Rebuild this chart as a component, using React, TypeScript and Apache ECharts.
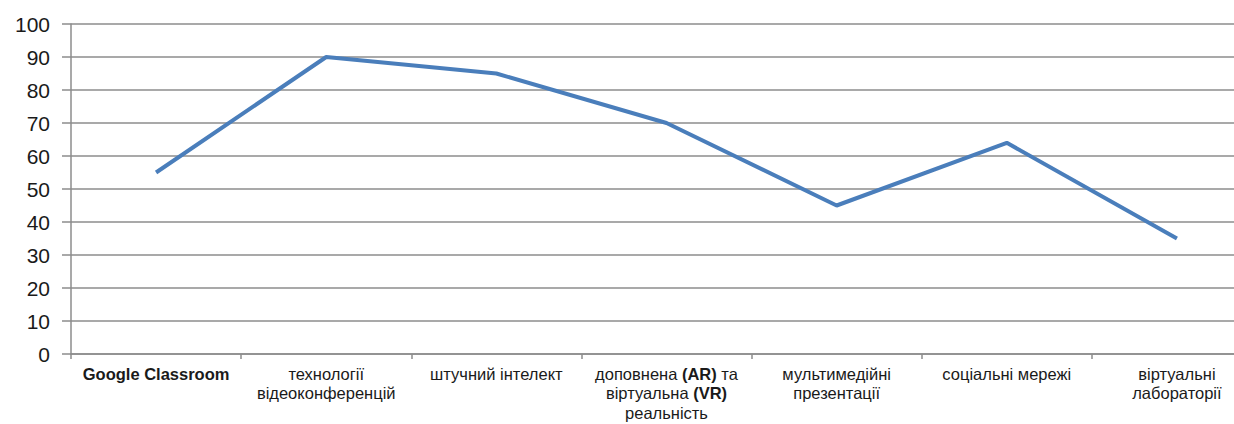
import React, { useEffect, useRef } from "react";
import * as echarts from "echarts";

const categories = [
  "Google Classroom",
  "технології\nвідеоконференцій",
  "штучний інтелект",
  "доповнена (AR) та\nвіртуальна (VR)\nреальність",
  "мультимедійні\nпрезентації",
  "соціальні мережі",
  "віртуальні\nлабораторії",
];
const values = [55, 90, 85, 70, 45, 64, 35];
const yTicks = { min: 0, max: 100, interval: 10 };

const FONT = "Liberation Sans, Arial, sans-serif";

export default function App() {
  const ref = useRef<HTMLDivElement>(null);
  useEffect(() => {
    if (!ref.current) return;
    const chart = echarts.init(ref.current, undefined, { renderer: "svg" });
    chart.setOption({
      animation: false,
      backgroundColor: "#ffffff",
      grid: { left: 71, top: 24, bottom: 70, right: 0, containLabel: false },
      xAxis: {
        type: "category",
        data: categories,
        boundaryGap: true,
        axisLine: { show: true, lineStyle: { color: "#8c8c8c", width: 1.5 } },
        axisTick: { show: true, length: 5, lineStyle: { color: "#8c8c8c", width: 1.5 } },
        axisLabel: {
          interval: 0,
          margin: 10,
          color: "#1a1a1a",
          fontFamily: FONT,
          fontSize: 16.5,
          lineHeight: 19.5,
          formatter: (v: string) => {
            if (v === "Google Classroom") return "{g|" + v + "}";
            return v
              .split("\n")
              .map((line) => line.replace(/\((AR|VR)\)/g, (m) => "{b|" + m + "}"))
              .join("\n");
          },
          rich: {
            g: { fontWeight: "bold", fontSize: 16.5, lineHeight: 19.5, fontFamily: FONT, color: "#1a1a1a" },
            b: { fontWeight: "bold", fontSize: 16.5, lineHeight: 19.5, fontFamily: FONT, color: "#1a1a1a" },
          },
        },
      },
      yAxis: {
        type: "value",
        min: yTicks.min,
        max: yTicks.max,
        interval: yTicks.interval,
        axisLine: { show: true, lineStyle: { color: "#8c8c8c", width: 1.5 } },
        axisTick: { show: true, length: 9, lineStyle: { color: "#8c8c8c", width: 1.5 } },
        splitLine: { show: true, lineStyle: { color: "#8c8c8c", width: 1.5 } },
        axisLabel: {
          margin: 21,
          color: "#1a1a1a",
          fontFamily: FONT,
          fontSize: 21,
        },
      },
      series: [
        {
          type: "line",
          data: values,
          symbol: "none",
          lineStyle: { color: "#4a7ebb", width: 4 },
        },
      ],
    });
    return () => chart.dispose();
  }, []);
  return (
    <div style={{ position: "fixed", left: 0, top: 0, width: 1234, height: 424, overflow: "hidden", background: "#fff" }}>
      <div ref={ref} style={{ width: 1262, height: 424 }} />
    </div>
  );
}
